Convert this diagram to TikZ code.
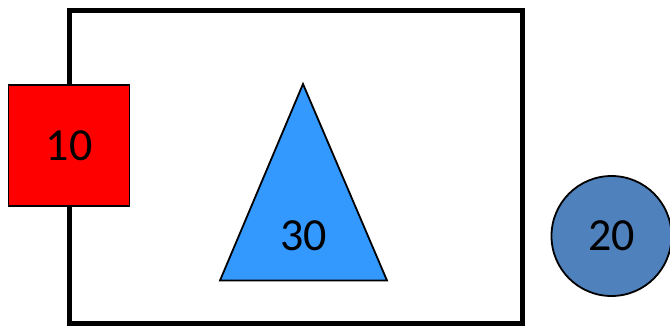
\documentclass[tikz,border=0pt]{standalone}
\usepackage{fontspec}
\setmainfont{Carlito}
\usetikzlibrary{calc}
\definecolor{triblue}{HTML}{3399FF}
\definecolor{circblue}{HTML}{4F81BD}

\begin{document}
\begin{tikzpicture}[x=1pt, y=-1pt, font=\fontsize{46}{50}\selectfont]
  \useasboundingbox (0,0) rectangle (670,325);
  \tikzset{
    shapeline/.style={draw=black, line width=1.8pt},
  }

  % frame
  \coordinate (FA) at (69.5,10);
  \coordinate (FB) at (522.5,323);
  \draw[line width=5pt] (FA) rectangle (FB);

  % triangle
  \coordinate (TA) at (303,84);
  \coordinate (TL) at (220,280.5);
  \coordinate (TR) at (387,280.5);
  \draw[shapeline, fill=triblue, line join=miter] (TA) -- (TR) -- (TL) -- cycle;
  \node (tri) at ($(TL)!0.5!(TR)+(0,-45)$) {30};

  % square and circle
  \node[shapeline, fill=red, minimum size=121pt, inner sep=0pt] (sq) at (69,145.5) {10};
  \node[shapeline, fill=circblue, circle, minimum size=120pt, inner sep=0pt] (circ) at (611.5,236) {20};
\end{tikzpicture}
\end{document}
